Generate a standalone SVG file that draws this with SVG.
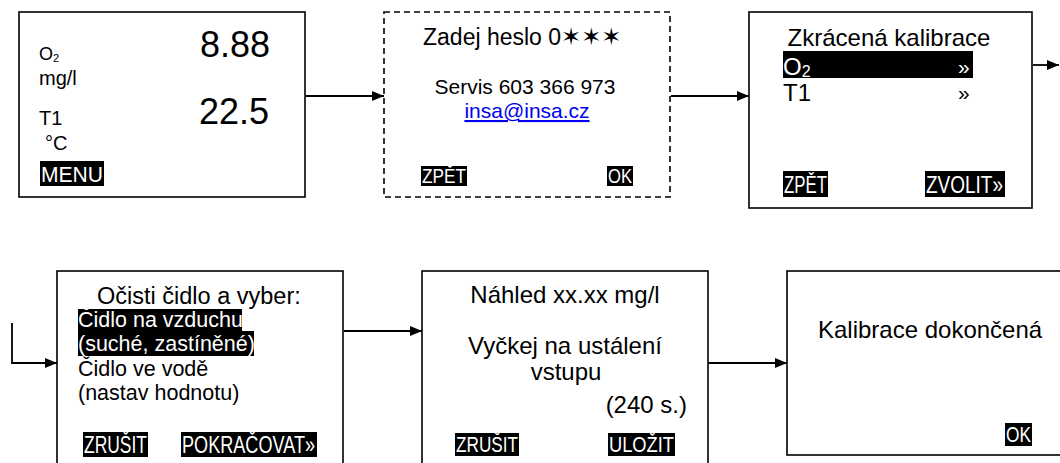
<svg xmlns="http://www.w3.org/2000/svg" width="1060" height="463" viewBox="0 0 1060 463">
<defs>
<style>
.box{fill:#fff;stroke:#000;stroke-width:1.6}
.dash{fill:#fff;stroke:#000;stroke-width:1.6;stroke-dasharray:6,4}
.t{font-family:"Liberation Sans",Arial,"DejaVu Sans",sans-serif;fill:#000}
.w{fill:#fff}
.hl{fill:#000}
.btn{font-family:"Liberation Sans Narrow","Liberation Sans",Arial,sans-serif;fill:#fff}
.con{fill:none;stroke:#000;stroke-width:1.8}
</style>
<marker id="ah" viewBox="0 0 12 10" refX="12" refY="5" markerWidth="12" markerHeight="10" markerUnits="userSpaceOnUse" orient="auto">
<path d="M0,0 L12,5 L0,10 Z" fill="#000"/>
</marker>
</defs>
<rect width="1060" height="463" fill="#fff"/>

<g id="connectors">
<line class="con" x1="306" y1="96" x2="384" y2="96" marker-end="url(#ah)"/>
<line class="con" x1="671" y1="96" x2="749" y2="96" marker-end="url(#ah)"/>
<line class="con" x1="1033" y1="65" x2="1059" y2="65" marker-end="url(#ah)"/>
<polyline class="con" points="12,323 12,363 57,363" marker-end="url(#ah)"/>
<line class="con" x1="344" y1="331" x2="422" y2="331" marker-end="url(#ah)"/>
<line class="con" x1="708" y1="363" x2="787" y2="363" marker-end="url(#ah)"/>
</g>

<g id="screen-main">
<rect class="box" x="19" y="12" width="286" height="185"/>
<text class="t" x="39" y="60" font-size="18">O<tspan font-size="11" dy="2">2</tspan></text>
<text class="t" x="39" y="85" font-size="20">mg/l</text>
<text class="t" x="200" y="57" font-size="36">8.88</text>
<text class="t" x="39" y="125" font-size="20">T1</text>
<text class="t" x="199" y="124" font-size="36">22.5</text>
<text class="t" x="45" y="150" font-size="20">°C</text>
<rect class="hl" x="40" y="161" width="64" height="25"/>
<text class="t w" x="41" y="182" font-size="21.5" textLength="62" lengthAdjust="spacingAndGlyphs">MENU</text>
</g>

<g id="screen-password">
<rect class="dash" x="384" y="12" width="286" height="185"/>
<text class="t" x="423" y="45" font-size="23">Zadej heslo 0<tspan font-family="DejaVu Sans,sans-serif" font-size="24">✶✶✶</tspan></text>
<text class="t" x="525" y="94" font-size="21" text-anchor="middle">Servis 603 366 973</text>
<text class="t" x="527" y="118" font-size="21" text-anchor="middle" fill="#0000ee" style="fill:#0000ee" text-decoration="underline">insa@insa.cz</text>
<rect class="hl" x="421" y="166" width="46" height="20"/>
<text class="btn" x="422" y="183" font-size="20" textLength="44" lengthAdjust="spacingAndGlyphs">ZPĚT</text>
<rect class="hl" x="607" y="166" width="26" height="20"/>
<text class="btn" x="608" y="183" font-size="20" textLength="24" lengthAdjust="spacingAndGlyphs">OK</text>
</g>

<g id="screen-quick-cal">
<rect class="box" x="749" y="12" width="283" height="196"/>
<text class="t" x="889" y="46" font-size="24" text-anchor="middle">Zkrácená kalibrace</text>
<rect class="hl" x="783" y="51" width="190" height="27"/>
<text class="t w" x="783" y="75" font-size="24">O<tspan font-size="16" dy="2">2</tspan></text>
<text class="t w" x="958" y="74" font-size="21">»</text>
<text class="t" x="783" y="101" font-size="24">T1</text>
<text class="t" x="958" y="100" font-size="21">»</text>
<rect class="hl" x="783" y="171" width="45" height="26"/>
<text class="btn" x="784" y="193" font-size="23" textLength="43" lengthAdjust="spacingAndGlyphs">ZPĚT</text>
<rect class="hl" x="925" y="171" width="80" height="26"/>
<text class="btn" x="926" y="193" font-size="23" textLength="77" lengthAdjust="spacingAndGlyphs">ZVOLIT»</text>
</g>

<g id="screen-clean">
<rect class="box" x="57" y="271" width="286" height="200"/>
<text class="t" x="97" y="304" font-size="23.5">Očisti čidlo a vyber:</text>
<rect class="hl" x="78" y="309" width="164" height="22"/>
<text class="t w" x="78" y="327" font-size="21.5">Čidlo na vzduchu</text>
<rect class="hl" x="78" y="331" width="176" height="25"/>
<text class="t w" x="78" y="351" font-size="21.5">(suché, zastíněné)</text>
<text class="t" x="78" y="376" font-size="21.5">Čidlo ve vodě</text>
<text class="t" x="78" y="400" font-size="21.5">(nastav hodnotu)</text>
<rect class="hl" x="83" y="432" width="65" height="25"/>
<text class="btn" x="84" y="453" font-size="23" textLength="63" lengthAdjust="spacingAndGlyphs">ZRUŠIT</text>
<rect class="hl" x="181" y="432" width="136" height="25"/>
<text class="btn" x="182" y="453" font-size="23" textLength="133" lengthAdjust="spacingAndGlyphs">POKRAČOVAT»</text>
</g>

<g id="screen-preview">
<rect class="box" x="422" y="271" width="286" height="200"/>
<text class="t" x="565" y="303" font-size="24" text-anchor="middle">Náhled xx.xx mg/l</text>
<text class="t" x="565" y="354" font-size="24" text-anchor="middle">Vyčkej na ustálení</text>
<text class="t" x="566" y="380" font-size="24" text-anchor="middle">vstupu</text>
<text class="t" x="687" y="413" font-size="24" text-anchor="end">(240 s.)</text>
<rect class="hl" x="455" y="433" width="64" height="23"/>
<text class="btn" x="456" y="452" font-size="22" textLength="62" lengthAdjust="spacingAndGlyphs">ZRUŠIT</text>
<rect class="hl" x="608" y="433" width="67" height="23"/>
<text class="btn" x="609" y="452" font-size="22" textLength="65" lengthAdjust="spacingAndGlyphs">ULOŽIT</text>
</g>

<g id="screen-done">
<rect class="box" x="787" y="271" width="290" height="184"/>
<text class="t" x="818" y="338" font-size="24">Kalibrace dokončená</text>
<rect class="hl" x="1005" y="423" width="27" height="23"/>
<text class="btn" x="1006" y="442" font-size="22" textLength="25" lengthAdjust="spacingAndGlyphs">OK</text>
</g>
</svg>
